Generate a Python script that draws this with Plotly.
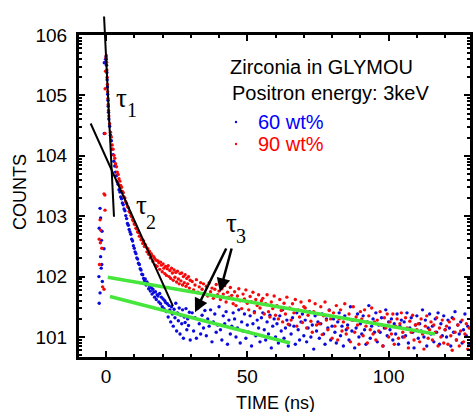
import plotly.graph_objects as go

# ---------------- data (time in ns, values are log10 of counts) ----------------
red_pre_t   = [-0.7, -0.4, -2.1, -1.9, -2.4, -1.5, -2.0, -1.2, -0.7, -0.35, -0.35, -2.3]
red_pre_log = [3.37, 3.35, 2.94, 2.77, 2.62, 2.47, 2.56, 1.83, 1.79, 3.10, 4.37, 2.20]
blue_pre_t   = [-2.1, -1.9, -2.4, -1.4, -0.7, -1.9, -1.5, -2.5, -1.7, -2.1, -2.4, -0.6, -0.6, -1.6, -1.3]
blue_pre_log = [3.13, 2.97, 2.80, 2.75, 2.46, 2.33, 2.20, 2.00, 2.14, 1.73, 1.56, 4.37, 5.54, 2.60, 1.92]

peak_t = [-0.3, -0.15, 0.0, 0.1, 0.2, 0.3, 0.4, 0.5, 0.6, 0.7, 0.8, 0.9]
red_peak_log  = [5.11, 5.40, 5.62, 5.66, 5.55, 5.42, 5.30, 5.18, 5.06, 4.95, 4.85, 4.75]
blue_peak_log = [5.54, 5.60, 5.64, 5.60, 5.50, 5.38, 5.26, 5.14, 5.02, 4.92, 4.82, 4.72]

EARLY_T0, EARLY_DT = 1.0, 0.3
red_early_log = [
    4.66, 4.53, 4.39, 4.31, 4.18, 4.11, 4.01, 3.96, 3.87, 3.82,
    3.73, 3.69, 3.62, 3.58, 3.51, 3.48, 3.41, 3.39, 3.32, 3.30,
    3.24, 3.21, 3.16, 3.14, 3.08, 3.06, 3.01, 2.99, 2.94, 2.92,
    2.87, 2.86, 2.80, 2.79, 2.74, 2.73, 2.67, 2.67, 2.61, 2.62,
    2.55, 2.59, 2.50, 2.53, 2.49, 2.41, 2.46, 2.37, 2.42, 2.31,
    2.38, 2.35, 2.25, 2.33, 2.30, 2.19, 2.27, 2.17, 2.26, 2.23,
    2.12, 2.24, 2.19, 2.08, 2.21, 2.14, 2.05, 2.17, 2.02, 2.13,
    2.18, 2.00, 2.10, 1.97, 2.14, 2.06, 1.94, 2.11, 1.99, 2.07,
    1.91, 2.09, 1.96, 1.88, 2.05, 1.93, 2.06, 1.86, 2.00, 1.90,
    2.03, 1.84, 1.97, 1.88, 2.00, 1.81, 1.94]
blue_early_log = [
    4.61, 4.49, 4.34, 4.25, 4.11, 4.02, 3.91, 3.83, 3.73, 3.67,
    3.57, 3.53, 3.44, 3.40, 3.32, 3.29, 3.22, 3.19, 3.12, 3.09,
    3.01, 2.96, 2.88, 2.85, 2.78, 2.74, 2.70, 2.62, 2.59, 2.51,
    2.47, 2.41, 2.38, 2.31, 2.29, 2.22, 2.20, 2.13, 2.11, 2.04,
    2.03, 1.97, 1.93, 1.96, 1.86, 1.91, 1.88, 1.80, 1.85, 1.76,
    1.82, 1.71, 1.79, 1.74, 1.66, 1.75, 1.62, 1.70, 1.68, 1.58,
    1.72, 1.55, 1.66, 1.50, 1.63, 1.47, 1.60, 1.57, 1.42, 1.55,
    1.33, 1.52, 1.45, 1.25, 1.50, 1.38, 1.18, 1.46, 1.32, 1.56,
    1.10, 1.40, 1.27, 1.48, 1.05, 1.36, 1.22, 1.45, 0.98, 1.33,
    1.24, 1.47, 1.12, 1.30, 1.19, 1.41, 0.95]

TAIL_T0, TAIL_DT = 30.5, 0.5
red_tail_log = [
    1.92, 1.78, 1.86, 1.95, 1.74, 1.83, 1.90, 1.79, 1.88, 1.72,
    1.84, 1.68, 1.90, 1.75, 1.81, 1.64, 1.79, 1.87, 1.70, 1.76,
    1.62, 1.80, 1.71, 1.85, 1.58, 1.74, 1.66, 1.82, 1.69, 1.55,
    1.75, 1.52, 1.68, 1.80, 1.60, 1.47, 1.71, 1.63, 1.78, 1.56,
    1.45, 1.67, 1.58, 1.74, 1.40, 1.62, 1.52, 1.70, 1.48, 1.60,
    1.64, 1.38, 1.55, 1.70, 1.42, 1.33, 1.58, 1.47, 1.68, 1.36,
    1.52, 1.30, 1.62, 1.44, 1.25, 1.56, 1.38, 1.66, 1.21, 1.48,
    1.28, 1.55, 1.40, 1.62, 1.18, 1.45, 1.33, 1.58, 1.24, 1.50,
    1.48, 1.15, 1.36, 1.60, 1.26, 1.08, 1.42, 1.55, 1.20, 1.38,
    1.22, 1.50, 1.04, 1.35, 1.58, 1.28, 1.12, 1.44, 1.30, 0.98,
    1.40, 1.18, 1.52, 0.95, 1.30, 1.45, 1.10, 1.25, 1.55, 1.05,
    1.15, 1.38, 0.92, 1.28, 1.50, 1.08, 1.33, 1.20, 0.88, 1.42,
    1.30, 1.02, 1.45, 1.18, 0.90, 1.35, 1.12, 1.48, 1.05, 1.25,
    0.95, 1.28, 1.10, 1.42, 1.20, 0.85, 1.32, 1.15, 1.38, 1.00,
    1.25, 1.05, 1.38, 0.88, 1.18, 1.30, 0.98, 1.22, 1.40, 1.08,
    1.00, 1.32, 1.15, 0.82, 1.26, 1.08, 1.36, 0.95, 1.20, 1.12,
    1.22, 0.92, 1.30, 1.05, 0.80, 1.18, 1.35, 0.98, 1.12, 1.25,
    0.95, 1.20, 1.08, 1.32, 0.85, 1.15, 1.00, 1.28, 0.90, 1.12,
    1.18, 0.88, 1.25, 1.02, 0.78, 1.30, 1.08, 0.95, 1.20, 0.85,
    1.10, 1.28, 0.92, 1.05, 1.22, 0.80, 1.15]
blue_tail_log = [
    1.40, 1.10, 1.32, 0.98, 1.48, 1.22, 1.05, 1.36, 1.15, 1.44,
    1.02, 1.30, 1.18, 1.45, 0.92, 1.25, 1.38, 1.08, 1.20, 1.50,
    1.12, 0.95, 1.35, 1.22, 1.42, 0.88, 1.28, 1.05, 1.18, 1.40,
    1.30, 1.00, 1.15, 1.45, 0.90, 1.25, 1.10, 1.38, 0.98, 1.20,
    1.08, 1.35, 0.85, 1.22, 1.42, 1.02, 1.28, 1.15, 0.92, 1.32,
    1.40, 1.12, 0.95, 1.25, 1.05, 1.36, 0.82, 1.18, 1.30, 1.00,
    1.22, 0.90, 1.35, 1.10, 1.45, 0.98, 1.15, 1.28, 0.85, 1.20,
    1.05, 1.32, 1.18, 0.88, 1.40, 1.12, 0.95, 1.25, 1.38, 1.02,
    1.28, 0.92, 1.15, 1.42, 1.00, 1.20, 0.80, 1.35, 1.10, 1.25,
    0.98, 1.22, 1.38, 1.05, 0.88, 1.30, 1.15, 1.45, 0.95, 1.18,
    1.30, 1.08, 0.90, 1.25, 1.40, 1.02, 1.18, 0.85, 1.35, 1.12,
    1.20, 0.95, 1.50, 1.10, 1.28, 0.82, 1.15, 1.38, 1.00, 1.22,
    1.05, 1.35, 1.12, 0.88, 1.25, 1.52, 0.98, 1.18, 1.30, 1.08,
    1.40, 0.92, 1.20, 1.08, 1.32, 0.85, 1.15, 1.45, 1.02, 1.25,
    1.12, 1.30, 0.95, 1.22, 1.05, 1.38, 0.88, 1.18, 1.28, 1.00,
    1.25, 1.02, 1.40, 0.90, 1.15, 1.32, 1.08, 0.82, 1.20, 1.35,
    0.98, 1.22, 1.10, 1.45, 1.00, 1.28, 0.85, 1.15, 1.38, 1.05,
    1.18, 0.92, 1.30, 1.08, 1.40, 0.88, 1.22, 1.02, 1.35, 1.12,
    1.00, 1.28, 1.15, 0.85, 1.32, 1.08, 1.42, 0.95, 1.20, 1.05,
    1.25, 0.90, 1.12, 1.38, 1.02, 1.18, 0.88]

# fitted lifetime lines (ns, log10 counts)
tau1_t, tau1_log = [-0.71, 2.83], [6.33, 2.99]
tau2_t, tau2_log = [-5.66, 23.7], [4.56, 1.51]
green_hi_t, green_hi_log = [0.6, 116.4], [1.99, 1.05]
green_lo_t, green_lo_log = [1.4, 65.1], [1.67, 0.90]
tau3_head_t, tau3_head_log = [31.5, 40.3], [1.41, 1.745]
tau3_tail_t, tau3_tail_log = [42.8, 44.6], [2.49, 2.49]

series_names = ["60 wt%", "90 wt%"]
y_tickvals = [1e1, 1e2, 1e3, 1e4, 1e5, 1e6]
y_ticktext = ["101", "102", "103", "104", "105", "106"]
x_tickvals = [0, 50, 100]
x_ticktext = ["0", "50", "100"]

# ---------------- assemble ----------------
def series(pre_t, pre_log, peak_log, early_log, tail_log):
    t = list(pre_t) + list(peak_t)
    t += [EARLY_T0 + EARLY_DT * i for i in range(len(early_log))]
    t += [TAIL_T0 + TAIL_DT * i for i in range(len(tail_log))]
    v = list(pre_log) + list(peak_log) + list(early_log) + list(tail_log)
    return t, [10 ** x for x in v]

rt, rc = series(red_pre_t, red_pre_log, red_peak_log, red_early_log, red_tail_log)
bt, bc = series(blue_pre_t, blue_pre_log, blue_peak_log, blue_early_log, blue_tail_log)

BLUE = "rgb(10,10,220)"
RED = "rgb(245,10,10)"
GREEN = "rgb(70,230,60)"
SANS = "Liberation Sans, Arial, sans-serif"
SERIF = "Liberation Serif, Times New Roman, serif"

fig = go.Figure()
fig.add_trace(go.Scatter(x=bt, y=bc, mode="markers", marker=dict(color=BLUE, size=3.4),
                         name=series_names[0], showlegend=False))
fig.add_trace(go.Scatter(x=rt, y=rc, mode="markers", marker=dict(color=RED, size=3.4),
                         name=series_names[1], showlegend=False))
for gt, gl in [(green_hi_t, green_hi_log), (green_lo_t, green_lo_log)]:
    fig.add_trace(go.Scatter(x=gt, y=[10 ** v for v in gl], mode="lines",
                             line=dict(color=GREEN, width=3.5), showlegend=False))

# pixel geometry of the plot frame (for text placement only)
X0, X1, Y0, Y1 = 79, 470, 35, 357
def px(x):
    return (x - X0) / (X1 - X0)
def py(y):
    return (Y1 - y) / (Y1 - Y0)

ann = []
# tau1 / tau2 fit lines (drawn as headless arrows so they may leave the frame)
for lt, ll in [(tau1_t, tau1_log), (tau2_t, tau2_log)]:
    ann.append(dict(x=lt[1], y=ll[1], ax=lt[0], ay=ll[0], xref="x", yref="y",
                    axref="x", ayref="y", text="", showarrow=True, arrowhead=0,
                    arrowwidth=2, arrowcolor="black"))
for i in range(2):
    ann.append(dict(x=tau3_head_t[i], y=tau3_head_log[i], ax=tau3_tail_t[i], ay=tau3_tail_log[i],
                    xref="x", yref="y", axref="x", ayref="y", text="", showarrow=True,
                    arrowhead=2, arrowsize=1.1, arrowwidth=2.5, arrowcolor="black"))

def tau(xc, yc, dx, dy, digit):
    ann.append(dict(x=px(xc), y=py(yc), xref="paper", yref="paper", text="τ",
                    showarrow=False, font=dict(family=SERIF, size=27, color="black"),
                    xanchor="center", yanchor="middle"))
    ann.append(dict(x=px(xc + dx), y=py(yc + dy), xref="paper", yref="paper", text=digit,
                    showarrow=False, font=dict(family=SERIF, size=20, color="black"),
                    xanchor="center", yanchor="middle"))

tau(121.5, 98, 10, 12, "1")
tau(141, 205, 10, 17, "2")
tau(231, 223, 10, 13, "3")

ann.append(dict(x=px(229), y=py(67), xref="paper", yref="paper", text="Zirconia in GLYMOU",
                showarrow=False, xanchor="left", yanchor="middle", borderpad=0,
                font=dict(family=SANS, size=20, color="black")))
ann.append(dict(x=px(231), y=py(93), xref="paper", yref="paper", text="Positron energy: 3keV",
                showarrow=False, xanchor="left", yanchor="middle", borderpad=0,
                font=dict(family=SANS, size=20, color="black")))

# axis titles
ann.append(dict(x=px(275), y=py(403), xref="paper", yref="paper", text="TIME (ns)",
                showarrow=False, xanchor="center", yanchor="middle", borderpad=0,
                font=dict(family=SANS, size=18, color="black")))
ann.append(dict(x=px(20), y=py(192), xref="paper", yref="paper", text="COUNTS",
                showarrow=False, xanchor="center", yanchor="middle", borderpad=0, textangle=-90,
                font=dict(family=SANS, size=18, color="black")))

shapes = []
for name, col, tcol, yy in [(series_names[0], BLUE, "rgb(0,0,255)", 122),
                            (series_names[1], RED, "rgb(255,0,0)", 144)]:
    ann.append(dict(x=px(257), y=py(yy), xref="paper", yref="paper", text=name,
                    showarrow=False, xanchor="left", yanchor="middle", borderpad=0,
                    font=dict(family=SANS, size=20, color=tcol)))
    shapes.append(dict(type="circle", xref="paper", yref="paper",
                       x0=px(234.8), x1=px(237.2), y0=py(yy + 1.2), y1=py(yy - 1.2),
                       fillcolor=col, line=dict(width=0)))

minor_y = [m * 10 ** k for k in range(0, 6) for m in range(2, 10)]

fig.update_layout(
    width=473, height=412,
    margin=dict(l=X0, r=473 - X1, t=Y0, b=412 - Y1),
    paper_bgcolor="white", plot_bgcolor="white",
    font=dict(family=SANS, size=19, color="black"),
    annotations=ann, shapes=shapes,
    showlegend=False,
    xaxis=dict(range=[-9.55, 128.8], tickmode="array", tickvals=x_tickvals, ticktext=x_ticktext,
               ticks="inside", ticklen=6, tickwidth=2, tickcolor="black", automargin=False,
               showline=True, linewidth=3, linecolor="black", mirror="allticks",
               showgrid=False, zeroline=False,
               minor=dict(dtick=10, ticks="inside", ticklen=3, tickwidth=2, tickcolor="black", showgrid=False),
               tickfont=dict(size=19)),
    yaxis=dict(type="log", range=[0.669, 6.0], tickmode="array", tickvals=y_tickvals, ticktext=y_ticktext,
               ticks="inside", ticklen=6, tickwidth=2, tickcolor="black", automargin=False,
               showline=True, linewidth=3, linecolor="black", mirror="allticks",
               showgrid=False, zeroline=False, ticklabelstandoff=5,
               minor=dict(tickmode="array", tickvals=minor_y, ticks="inside", ticklen=3,
                          tickwidth=2, tickcolor="black", showgrid=False),
               tickfont=dict(size=19)),
)

fig.write_html("out.html", config={"displayModeBar": False},
               post_script="document.body.style.margin='0px';document.body.style.overflow='hidden';")
